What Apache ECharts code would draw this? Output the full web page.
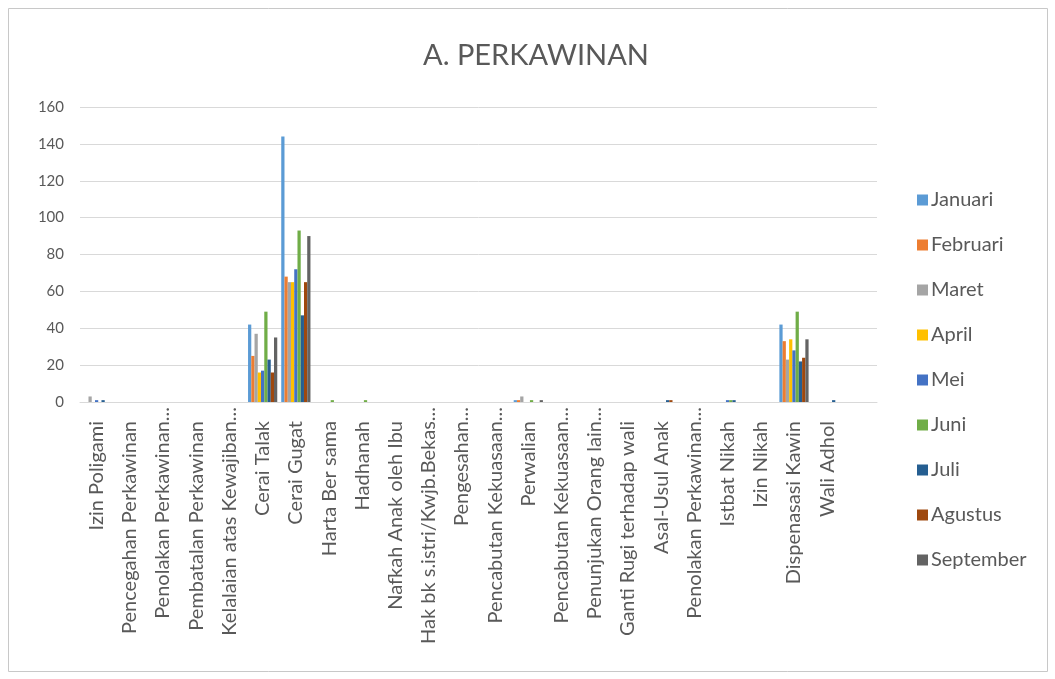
<!DOCTYPE html>
<html>
<head>
<meta charset="utf-8">
<title>A. PERKAWINAN</title>
<script src="https://cdn.jsdelivr.net/npm/echarts@6/dist/echarts.min.js"></script>
<style>
  html, body { margin: 0; padding: 0; background: #ffffff; }
  #chart { width: 1055px; height: 679px; }
</style>
</head>
<body>
<div id="chart"></div>
<script>
// Case types (the final slot is an empty spacer category)
const categories = [
  'Izin Poligami',
  'Pencegahan Perkawinan',
  'Penolakan Perkawinan...',
  'Pembatalan Perkawinan',
  'Kelalaian atas Kewajiban...',
  'Cerai Talak',
  'Cerai Gugat',
  'Harta Ber sama',
  'Hadhanah',
  'Nafkah Anak oleh Ibu',
  'Hak bk s.istri/Kwjb.Bekas...',
  'Pengesahan...',
  'Pencabutan Kekuasaan...',
  'Perwalian',
  'Pencabutan Kekuasaan...',
  'Penunjukan Orang lain...',
  'Ganti Rugi terhadap wali',
  'Asal-Usul Anak',
  'Penolakan Perkawinan...',
  'Istbat Nikah',
  'Izin Nikah',
  'Dispenasasi Kawin',
  'Wali Adhol',
  ''
];

const months = ['Januari', 'Februari', 'Maret', 'April', 'Mei', 'Juni', 'Juli', 'Agustus', 'September'];

// Monthly case counts, one value per category above
const januari   = [0, 0, 0, 0, 0, 42, 144, 0, 0, 0, 0, 0, 0, 1, 0, 0, 0, 0, 0, 0, 0, 42, 0, 0];
const februari  = [0, 0, 0, 0, 0, 25,  68, 0, 0, 0, 0, 0, 0, 1, 0, 0, 0, 0, 0, 0, 0, 33, 0, 0];
const maret     = [3, 0, 0, 0, 0, 37,  65, 0, 0, 0, 0, 0, 0, 3, 0, 0, 0, 0, 0, 0, 0, 23, 0, 0];
const april     = [0, 0, 0, 0, 0, 16,  65, 0, 0, 0, 0, 0, 0, 0, 0, 0, 0, 0, 0, 0, 0, 34, 0, 0];
const mei       = [1, 0, 0, 0, 0, 17,  72, 0, 0, 0, 0, 0, 0, 0, 0, 0, 0, 0, 0, 1, 0, 28, 0, 0];
const juni      = [0, 0, 0, 0, 0, 49,  93, 1, 1, 0, 0, 0, 0, 1, 0, 0, 0, 0, 0, 1, 0, 49, 0, 0];
const juli      = [1, 0, 0, 0, 0, 23,  47, 0, 0, 0, 0, 0, 0, 0, 0, 0, 0, 1, 0, 1, 0, 22, 1, 0];
const agustus   = [0, 0, 0, 0, 0, 16,  65, 0, 0, 0, 0, 0, 0, 0, 0, 0, 0, 1, 0, 0, 0, 24, 0, 0];
const september = [0, 0, 0, 0, 0, 35,  90, 0, 0, 0, 0, 0, 0, 1, 0, 0, 0, 0, 0, 0, 0, 34, 0, 0];

const yTicks = [0, 20, 40, 60, 80, 100, 120, 140, 160];

const monthValues = [januari, februari, maret, april, mei, juni, juli, agustus, september];
const monthColors = ['#5B9BD5', '#ED7D31', '#A5A5A5', '#FFC000', '#4472C4', '#70AD47', '#255E91', '#9E480E', '#636363'];

const FONT = 'Lato, "Open Sans", sans-serif';
const TEXT = '#595959';

const chart = echarts.init(document.getElementById('chart'), null, { renderer: 'canvas' });

chart.setOption({
  backgroundColor: '#ffffff',
  animation: false,
  textStyle: { fontFamily: FONT, color: TEXT },
  title: {
    text: 'A. PERKAWINAN',
    left: 531,
    top: 36,
    textAlign: 'center',
    textStyle: { fontFamily: FONT, fontSize: 29, fontWeight: 'normal', color: TEXT }
  },
  graphic: [{
    type: 'rect',
    shape: { x: 8.5, y: 8.5, width: 1039, height: 663 },
    style: { fill: 'none', stroke: '#c8c8c8', lineWidth: 1 },
    silent: true,
    z: -1
  }],
  legend: {
    orient: 'vertical',
    left: 912,
    top: 184,
    itemWidth: 11,
    itemHeight: 11,
    itemGap: 23,
    icon: 'rect',
    textStyle: { fontFamily: FONT, fontSize: 20, color: TEXT, lineHeight: 22, padding: [0, 0, 0, -2] },
    data: months
  },
  grid: { left: 80, right: 178, top: 107, bottom: 277, containLabel: false },
  xAxis: {
    type: 'category',
    data: categories,
    axisLine: { show: true, lineStyle: { color: '#d9d9d9', width: 1 } },
    axisTick: { show: false },
    axisLabel: {
      interval: 0,
      rotate: 90,
      margin: 5,
      fontFamily: FONT,
      fontSize: 20,
      color: TEXT,
      // full names sit a little further from the axis than shortened ones
      formatter: function (value) {
        return /\.\.\.$/.test(value) ? value : '{full|' + value + '}';
      },
      rich: {
        full: { fontFamily: FONT, fontSize: 20, color: TEXT, padding: [0, 14, 0, 0] }
      }
    }
  },
  yAxis: {
    type: 'value',
    min: 0,
    max: yTicks[yTicks.length - 1],
    interval: yTicks[1] - yTicks[0],
    axisLine: { show: false },
    axisTick: { show: false },
    axisLabel: { fontFamily: FONT, fontSize: 15, color: TEXT, margin: 16 },
    splitLine: { lineStyle: { color: '#d9d9d9', width: 1 } }
  },
  series: months.map((name, i) => ({
    name: name,
    type: 'bar',
    data: monthValues[i],
    barGap: '0%',
    barCategoryGap: '12%',
    itemStyle: { color: monthColors[i] }
  }))
});
</script>
</body>
</html>
